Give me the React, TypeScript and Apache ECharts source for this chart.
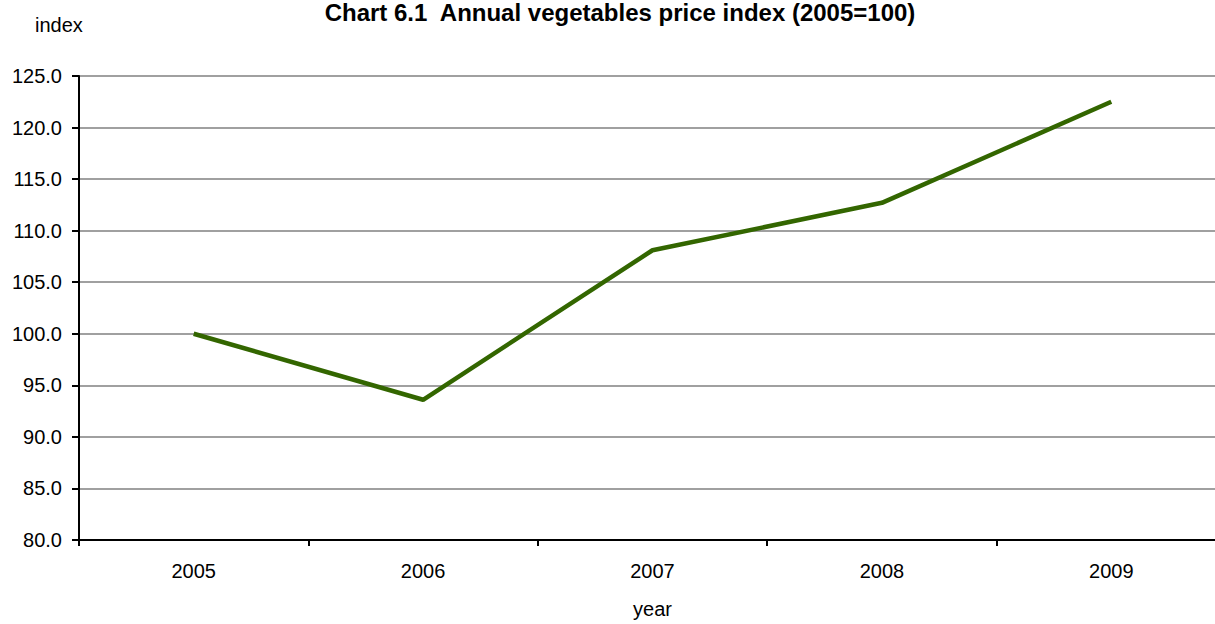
import React, { useEffect, useRef } from "react";
import * as echarts from "echarts";

const years = ["2005", "2006", "2007", "2008", "2009"];
const priceIndex = [100.0, 93.6, 108.1, 112.7, 122.5];
const titleText = "Chart 6.1  Annual vegetables price index (2005=100)";
const yName = "index";
const xName = "year";

const FONT = "'Liberation Sans', Arial, sans-serif";

export default function App() {
  const ref = useRef<HTMLDivElement>(null);
  useEffect(() => {
    if (!ref.current) return;
    const chart = echarts.init(ref.current, undefined, { renderer: "svg" });
    chart.setOption({
      animation: false,
      backgroundColor: "#ffffff",
      graphic: [
        {
          type: "text",
          x: 620,
          y: 12,
          style: {
            text: titleText,
            font: `bold 24px ${FONT}`,
            fill: "#000",
            align: "center",
            verticalAlign: "middle",
          },
        },
        {
          type: "text",
          x: 35,
          y: 25,
          style: {
            text: yName,
            font: `20px ${FONT}`,
            fill: "#000",
            align: "left",
            verticalAlign: "middle",
          },
        },
      ],
      grid: { left: 79, top: 76, width: 1147, height: 469, containLabel: false },
      xAxis: {
        type: "category",
        data: years,
        boundaryGap: true,
        name: xName,
        nameLocation: "middle",
        nameGap: 59,
        nameTextStyle: { fontFamily: FONT, fontSize: 20, color: "#000" },
        axisLine: { lineStyle: { color: "#000", width: 2 } },
        axisTick: { show: true, length: 6, lineStyle: { color: "#000", width: 2 } },
        axisLabel: { fontFamily: FONT, fontSize: 20, color: "#000", margin: 21 },
      },
      yAxis: {
        type: "value",
        min: 80,
        max: 125,
        interval: 5,
        axisLine: { show: true, lineStyle: { color: "#000", width: 2 } },
        axisTick: { show: true, length: 7, lineStyle: { color: "#000", width: 2 } },
        axisLabel: {
          fontFamily: FONT,
          fontSize: 20,
          color: "#000",
          margin: 17,
          formatter: (v: number) => v.toFixed(1),
        },
        splitLine: { show: true, lineStyle: { color: "#a0a0a0", width: 2 } },
      },
      series: [
        {
          type: "line",
          data: priceIndex,
          symbol: "none",
          lineStyle: { color: "#336600", width: 4.5 },
        },
      ],
    });
    return () => chart.dispose();
  }, []);
  return (
    <div
      style={{
        position: "fixed",
        left: 0,
        top: 0,
        width: 1215,
        height: 624,
        overflow: "hidden",
        background: "#fff",
      }}
    >
      <div ref={ref} style={{ width: 1240, height: 624 }} />
    </div>
  );
}
